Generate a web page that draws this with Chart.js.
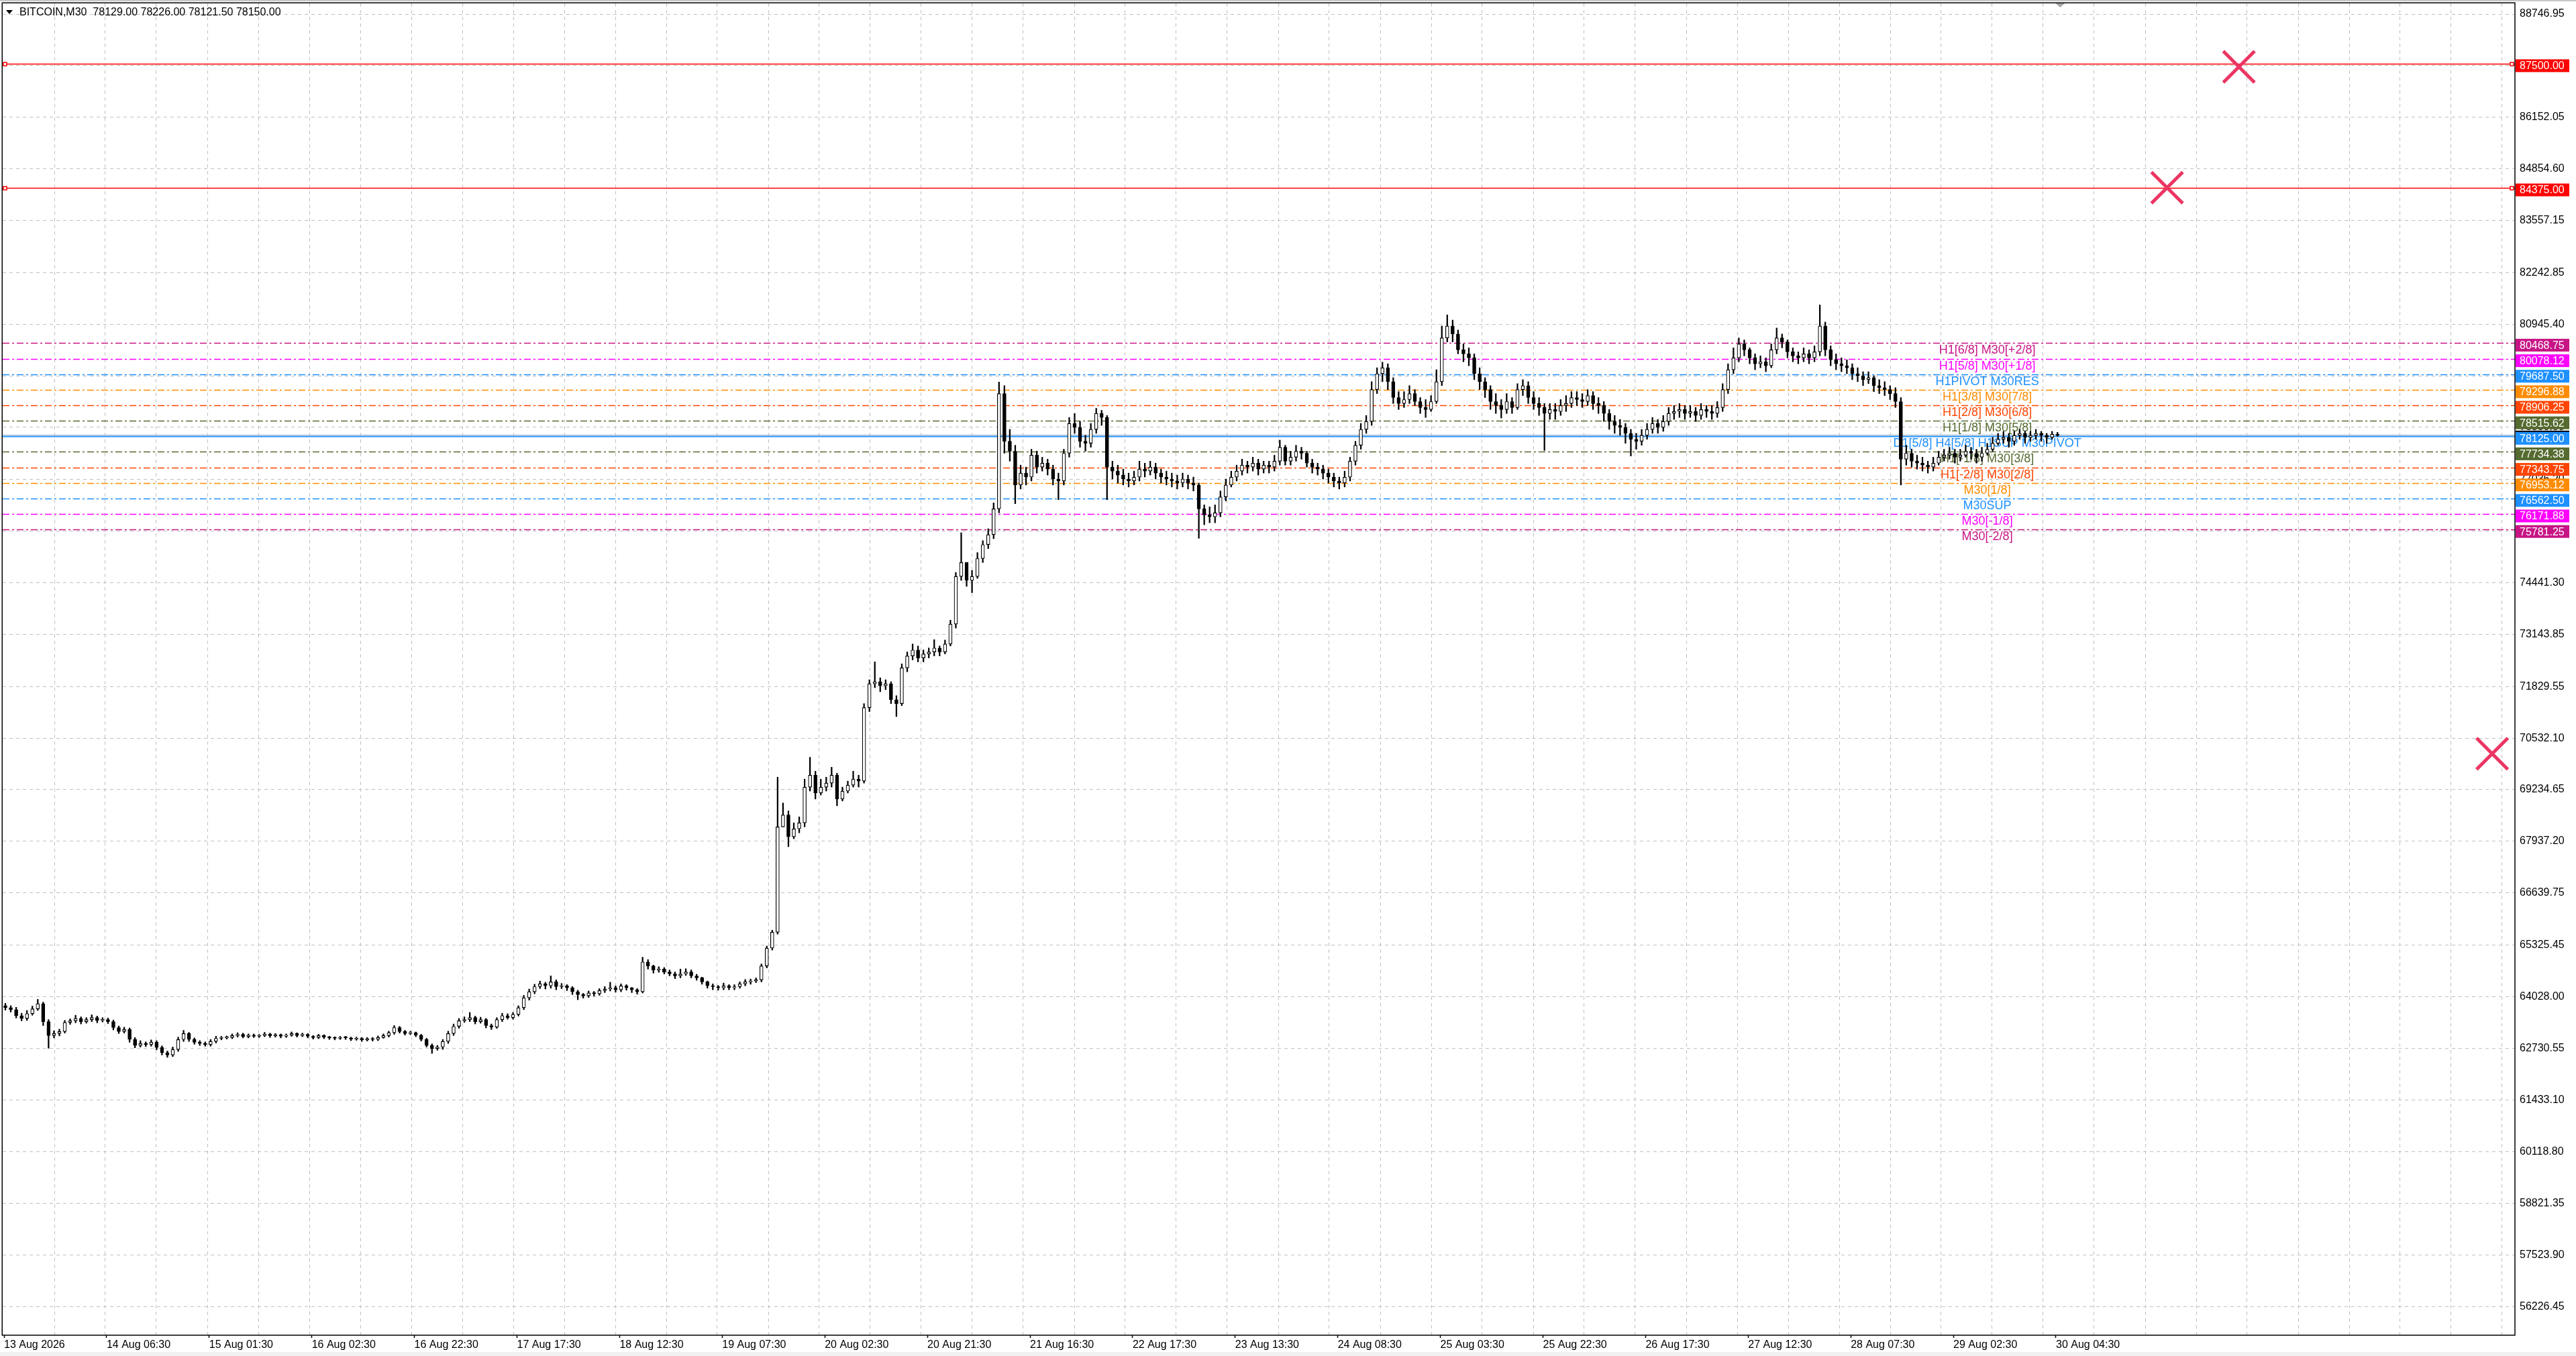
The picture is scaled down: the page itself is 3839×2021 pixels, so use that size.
<!DOCTYPE html>
<html>
<head>
<meta charset="utf-8">
<title>BITCOIN,M30</title>
<script src="https://cdn.jsdelivr.net/npm/chart.js@4.4.1/dist/chart.umd.min.js"></script>
<style>
  html, body { margin: 0; padding: 0; background: #fff; overflow: hidden; }
  #wrap { width: 3839px; height: 2021px; }
</style>
</head>
<body>
<div id="wrap"><canvas id="grafic"></canvas></div>
<script>
// dades llegides del grafic (espelmes d'una hora)
const firstOpen = 63800;
const closes = [
  63750,63700,63550,63480,63600,63720,63850,63400,63050,63100,63150,63380,63420,63480,63400,63450,63500,63430,63450,63400,
  63250,63150,63200,62950,62800,62850,62820,62880,62750,62620,62560,62700,62950,63100,62950,62880,62850,62820,62900,62980,
  62990,63000,63050,63080,63020,63060,63030,63050,63090,63040,63070,63030,63060,63100,63050,63080,63030,63000,63050,63010,
  62990,62980,63000,62990,62960,62980,62940,62970,62950,63000,63050,63120,63250,63150,63100,63120,63060,62950,62800,62720,
  62760,62900,63100,63280,63420,63450,63500,63400,63450,63300,63260,63450,63550,63500,63580,63750,64000,64150,64280,64350,
  64300,64400,64280,64300,64250,64150,64080,64050,64120,64100,64180,64220,64250,64200,64300,64250,64200,64150,64900,64800,
  64700,64720,64650,64600,64550,64600,64650,64550,64500,64400,64300,64280,64250,64300,64250,64280,64350,64400,64420,64450,
  64800,65250,65650,68300,68600,68050,68250,68400,69300,69600,69150,69300,69400,69600,69000,69200,69350,69500,69450,71300,
  71900,71950,71850,71900,71500,71400,72300,72600,72750,72550,72650,72700,72800,72700,72900,73400,74600,74950,74500,74600,
  75050,75400,75650,76300,79200,78000,77750,76900,77200,77100,77650,77350,77450,77300,77050,77000,77700,78450,78350,78000,
  77950,78300,78700,78600,77350,77250,77150,77050,77000,77100,77300,77250,77350,77200,77100,77050,77000,76950,77050,76950,
  76900,76300,76150,76100,76200,76600,76900,77100,77250,77400,77350,77450,77300,77400,77350,77500,77850,77500,77600,77750,
  77700,77450,77350,77300,77200,77100,77000,76950,77100,77500,77900,78300,78500,79300,79700,79850,79500,79100,78950,79050,
  79200,79000,78850,78800,79000,79500,80600,80900,80700,80300,80200,80100,79700,79500,79300,79000,78900,78800,79000,78850,
  79300,79400,79100,78950,78850,78700,78800,78750,78900,78950,79100,79050,79000,79150,78950,78900,78700,78500,78400,78350,
  78200,78050,78000,78150,78300,78450,78350,78500,78700,78750,78800,78700,78750,78650,78800,78750,78700,78850,79300,79800,
  80100,80450,80300,80100,79950,80000,79900,80300,80600,80500,80250,80150,80100,80200,80100,80250,80900,80300,80050,79950,
  79900,79850,79700,79650,79550,79600,79400,79350,79300,79200,79000,77550,77700,77500,77450,77400,77350,77450,77600,77650,
  77700,77600,77650,77750,77700,77600,77700,77800,77950,78050,78100,78000,78150,78200,78100,78150,78200,78150,78100,78180,78150
];
const highs = [
  63860,63800,63760,63610,63680,63790,63960,63890,63450,63170,63210,63430,63470,63560,63520,63500,63570,63540,63500,63490,
  63440,63290,63260,63240,63000,62920,62890,62940,62920,62790,62660,62760,63010,63180,63130,62990,62920,62890,62950,63030,
  63030,63040,63090,63120,63110,63090,63090,63080,63130,63110,63100,63090,63090,63140,63120,63110,63100,63050,63080,63070,
  63030,63020,63030,63030,63010,63010,63000,63000,63000,63040,63090,63160,63300,63280,63180,63160,63140,63080,62980,62840,
  62800,62950,63160,63340,63480,63520,63630,63540,63510,63480,63340,63500,63610,63600,63630,63800,64060,64220,64340,64420,
  64390,64550,64450,64360,64330,64280,64190,64110,64170,64160,64230,64280,64390,64300,64350,64330,64260,64230,65020,64960,
  64820,64780,64760,64700,64650,64720,64730,64700,64590,64520,64420,64350,64310,64370,64330,64330,64400,64460,64470,64500,
  64850,65300,65700,69550,68900,68700,68400,68550,69500,70050,69700,69500,69550,69800,69650,69300,69450,69700,69600,71400,
  72000,72450,72050,72000,71950,71600,72400,72700,72900,72850,72750,72800,73010,72850,73000,73500,74700,75700,74950,74750,
  75200,75500,75800,76450,79490,79400,78300,77900,77400,77350,77800,77750,77600,77550,77400,77200,77800,78600,78700,78500,
  78150,78450,78830,78780,78650,77500,77400,77300,77200,77250,77500,77450,77500,77450,77300,77250,77200,77150,77200,77150,
  77100,76950,76400,76350,76400,76750,77050,77250,77400,77550,77500,77600,77550,77500,77500,77650,78030,77900,77750,77900,
  77850,77750,77550,77450,77400,77300,77200,77100,77250,77600,78000,78450,78650,79500,79850,79990,79950,79600,79250,79250,
  79400,79300,79100,79050,79150,79800,80900,81180,81050,80800,80450,80350,80200,79850,79600,79400,79200,79050,79200,79100,
  79450,79550,79500,79250,79100,78950,78950,78950,79050,79150,79250,79250,79200,79300,79250,79100,79000,78800,78650,78550,
  78450,78300,78200,78300,78450,78600,78550,78650,78850,78900,78950,78900,78900,78850,78950,78900,78900,79000,79450,79950,
  80350,80600,80550,80350,80200,80150,80100,80450,80850,80700,80550,80350,80250,80350,80300,80400,81430,81000,80400,80200,
  80100,80050,79950,79850,79750,79750,79650,79550,79500,79400,79350,79100,77900,77800,77650,77600,77500,77600,77750,77800,
  77850,77800,77800,77900,77850,77800,77850,77950,78100,78200,78250,78200,78250,78300,78250,78250,78300,78250,78200,78250,78226
];
const lows = [
  63690,63640,63490,63420,63430,63560,63680,63300,62730,62990,63040,63110,63330,63370,63340,63360,63400,63370,63390,63350,
  63190,63100,63110,62880,62740,62760,62770,62780,62690,62560,62500,62520,62650,62900,62900,62830,62800,62780,62780,62860,
  62940,62960,62970,63010,62990,62990,63000,63000,63020,63000,63010,62990,63000,63030,63010,63020,62990,62960,62970,62970,
  62950,62940,62950,62950,62920,62930,62900,62910,62910,62920,62980,63010,63080,63110,63060,63070,63020,62910,62760,62600,
  62680,62700,62850,63050,63230,63380,63400,63340,63360,63240,63200,63230,63400,63460,63460,63540,63700,63940,64100,64230,
  64220,64240,64200,64230,64180,64080,63950,63990,64010,64040,64060,64130,64170,64140,64150,64190,64130,64090,64120,64720,
  64620,64640,64600,64550,64480,64500,64560,64500,64440,64340,64240,64200,64190,64200,64200,64200,64240,64300,64340,64380,
  64400,64750,65200,65600,68300,67800,68000,68150,68300,69200,69000,69100,69200,69300,68830,68950,69150,69300,69300,69400,
  71200,71800,71700,71750,71400,71075,71350,72200,72500,72450,72450,72550,72600,72600,72650,72850,73300,74500,74350,74190,
  74550,74950,75300,75550,76200,77700,77500,76430,76800,76900,77000,77200,77250,77150,76900,76530,76900,77600,78200,77850,
  77750,77850,78200,78400,76530,77050,76950,76900,76850,76900,77000,77100,77150,77050,76950,76900,76850,76800,76850,76800,
  76750,75560,75900,75950,75950,76100,76500,76850,77000,77150,77200,77250,77150,77200,77200,77250,77400,77400,77400,77500,
  77550,77350,77200,77150,77050,76950,76850,76800,76850,77000,77400,77800,78200,78400,79200,79500,79300,78950,78800,78850,
  78950,78900,78700,78600,78750,78950,79400,80500,80500,80200,80000,79900,79550,79300,79100,78800,78700,78585,78700,78700,
  78800,79150,78950,78800,78650,77770,78550,78550,78650,78750,78850,78900,78850,78900,78800,78700,78500,78300,78200,78150,
  77950,77630,77800,77900,78050,78200,78200,78250,78400,78550,78600,78550,78600,78500,78550,78600,78550,78600,78750,79200,
  79700,80000,80150,79950,79800,79850,79750,79850,80200,80350,80100,80000,79950,80000,79950,80000,80150,80150,79900,79800,
  79750,79700,79550,79500,79400,79450,79250,79200,79150,79050,78850,76900,77400,77350,77300,77250,77200,77250,77400,77500,
  77550,77450,77500,77600,77550,77450,77500,77650,77750,77900,77950,77850,77900,78050,77950,78000,78050,78000,77950,78050,78121.5
];

const priceTicks = [88746.95, 87449.50, 86152.05, 84854.60, 83557.15, 82242.85, 80945.40, 79647.95, 78350.50,
  77036.20, 75738.75, 74441.30, 73143.85, 71829.55, 70532.10, 69234.65, 67937.20, 66639.75, 65325.45, 64028.00,
  62730.55, 61433.10, 60118.80, 58821.35, 57523.90, 56226.45];
const timeLabels = ['13 Aug 2026', '14 Aug 06:30', '15 Aug 01:30', '16 Aug 02:30', '16 Aug 22:30', '17 Aug 17:30',
  '18 Aug 12:30', '19 Aug 07:30', '20 Aug 02:30', '20 Aug 21:30', '21 Aug 16:30', '22 Aug 17:30', '23 Aug 13:30',
  '24 Aug 08:30', '25 Aug 03:30', '25 Aug 22:30', '26 Aug 17:30', '27 Aug 12:30', '28 Aug 07:30', '29 Aug 02:30',
  '30 Aug 04:30'];

const levelPrices = [80468.75, 80078.12, 79687.50, 79296.88, 78906.25, 78515.62, 78125.00,
  77734.38, 77343.75, 76953.12, 76562.50, 76171.88, 75781.25];
const levelNames = ['H1[6/8] M30[+2/8]', 'H1[5/8] M30[+1/8]', 'H1PIVOT M30RES', 'H1[3/8] M30[7/8]',
  'H1[2/8] M30[6/8]', 'H1[1/8] M30[5/8]', 'D1[5/8] H4[5/8] H1SUP M30PIVOT', 'H1[-1/8] M30[3/8]',
  'H1[-2/8] M30[2/8]', 'M30[1/8]', 'M30SUP', 'M30[-1/8]', 'M30[-2/8]'];
const alertPrices = [87500, 84375];
const markerHours = [413.6, 400.3, 460.5];
const markerPrices = [87420, 84380, 70140];
const headerText = 'BITCOIN,M30  78129.00 78226.00 78121.50 78150.00';
const bidPrice = 78150;

// estils
const levelColors = ['#C71585', '#FF00FF', '#1E90FF', '#FF8C00', '#FF4500', '#556B2F', '#1E90FF',
  '#556B2F', '#FF4500', '#FF8C00', '#1E90FF', '#FF00FF', '#C71585'];
const FONT = '"Liberation Sans", Arial, sans-serif';
const PX_HORA = 8.048;
const X_MIN = -4 / PX_HORA;
const X_MAX = X_MIN + 3744 / PX_HORA;
const HORA_TEXT = 367;

const opens = closes.map((c, i) => i === 0 ? firstOpen : closes[i - 1]);
const cossos = closes.map((c, i) => ({ x: i, y: [opens[i], c] }));
const metxes = closes.map((c, i) => ({ x: i, y: [lows[i], highs[i]] }));
const creus = markerHours.map((h, i) => ({ x: h, y: markerPrices[i] }));

function boxPreu(ctx, a, yScale, p, bg) {
    const cy = yScale.getPixelForValue(p) + 3;
    ctx.fillStyle = bg;
    ctx.fillRect(a.right + 1, cy - 9.5, 80, 19);
    ctx.fillStyle = '#fff';
    ctx.fillText(p.toFixed(2), a.right + 7, cy + 1);
}

const nivells = {
    id: 'nivells',
    beforeDraw(chart) {
        const { ctx, width, height } = chart;
        ctx.save();
        ctx.fillStyle = '#fff';
        ctx.fillRect(0, 0, width, height);
        ctx.fillStyle = '#c8c8c8';
        ctx.fillRect(0, 0, width, 2);
        ctx.fillStyle = '#f0f0f0';
        ctx.fillRect(0, height - 6, width, 6);
        ctx.restore();
    },
    beforeDatasetsDraw(chart) {
        const { ctx, chartArea: a, scales: { x, y } } = chart;
        ctx.save();
        ctx.beginPath();
        ctx.rect(a.left, a.top, a.right - a.left, a.bottom - a.top);
        ctx.clip();

        alertPrices.forEach(p => {
            const py = Math.round(y.getPixelForValue(p)) + 0.5;
            ctx.strokeStyle = '#FF0000';
            ctx.lineWidth = 1.5;
            ctx.setLineDash([]);
            ctx.beginPath();
            ctx.moveTo(a.left, py);
            ctx.lineTo(a.right, py);
            ctx.stroke();
            ctx.fillStyle = '#fff';
            ctx.fillRect(a.left + 1, py - 2.5, 5, 5);
            ctx.strokeRect(a.left + 1, py - 2.5, 5, 5);
            ctx.fillRect(a.right - 7, py - 2.5, 5, 5);
            ctx.strokeRect(a.right - 7, py - 2.5, 5, 5);
        });

        levelPrices.forEach((p, i) => {
            const py = Math.round(y.getPixelForValue(p)) + 0.5;
            ctx.strokeStyle = levelColors[i];
            ctx.lineWidth = i === 6 ? 2 : 1.6;
            ctx.setLineDash(i === 6 ? [] : [10, 4, 3, 4]);
            ctx.beginPath();
            ctx.moveTo(a.left, py);
            ctx.lineTo(a.right, py);
            ctx.stroke();
        });

        // linia del preu actual
        const pb = Math.round(y.getPixelForValue(bidPrice)) - 0.5;
        ctx.setLineDash([]);
        ctx.strokeStyle = '#b8c4d0';
        ctx.lineWidth = 1.5;
        ctx.beginPath();
        ctx.moveTo(a.left, pb);
        ctx.lineTo(a.right, pb);
        ctx.stroke();

        ctx.font = '18px ' + FONT;
        ctx.textAlign = 'center';
        ctx.textBaseline = 'middle';
        const tx = x.getPixelForValue(HORA_TEXT);
        levelNames.forEach((n, i) => {
            ctx.fillStyle = levelColors[i];
            ctx.fillText(n, tx, y.getPixelForValue(levelPrices[i]) + 11);
        });
        ctx.restore();
    },
    afterDraw(chart) {
        const { ctx, chartArea: a, scales: { x, y } } = chart;
        ctx.save();
        // marc
        ctx.strokeStyle = '#000';
        ctx.lineWidth = 1.5;
        ctx.setLineDash([]);
        ctx.strokeRect(a.left - 0.75, a.top - 0.75, a.right - a.left + 0.75, a.bottom - a.top + 0.75);

        // marcador de desplaçament
        const sx = x.getPixelForValue(closes.length - 0.5);
        ctx.fillStyle = '#a8a8a8';
        ctx.beginPath();
        ctx.moveTo(sx - 7, a.top);
        ctx.lineTo(sx + 7, a.top);
        ctx.lineTo(sx, a.top + 6);
        ctx.closePath();
        ctx.fill();

        // etiquetes de preu a l'eix
        ctx.font = '16px ' + FONT;
        ctx.textAlign = 'left';
        ctx.textBaseline = 'middle';
        alertPrices.forEach(p => boxPreu(ctx, a, y, p, '#FF0000'));
        levelPrices.forEach((p, i) => {
            if (i === 6) {
                const cb = y.getPixelForValue(bidPrice) + 3;
                ctx.fillStyle = '#000';
                ctx.fillRect(a.right + 1, cb - 10, 80, 19);
            }
            boxPreu(ctx, a, y, p, levelColors[i]);
        });

        // capçalera
        ctx.fillStyle = '#000';
        ctx.beginPath();
        ctx.moveTo(9, 15);
        ctx.lineTo(19, 15);
        ctx.lineTo(14, 21);
        ctx.closePath();
        ctx.fill();
        ctx.fillText(headerText, 29, 19);
        ctx.restore();
    }
};

const ctx = document.getElementById('grafic').getContext('2d');
new Chart(ctx, {
    type: 'bar',
    data: {
        datasets: [
            {
                type: 'scatter',
                data: creus,
                showLine: false,
                pointStyle: 'crossRot',
                pointRadius: 33,
                borderColor: '#EC3562',
                borderWidth: 5,
                order: 0
            },
            {
                data: cossos,
                grouped: false,
                barThickness: 5,
                minBarLength: 1.5,
                backgroundColor: c => closes[c.dataIndex] > opens[c.dataIndex] ? '#ffffff' : '#000000',
                borderColor: '#000',
                borderWidth: 1.2,
                borderSkipped: false,
                order: 1
            },
            {
                data: metxes,
                grouped: false,
                barThickness: 1.6,
                backgroundColor: '#000',
                borderWidth: 0,
                order: 2
            }
        ]
    },
    options: {
        responsive: true,
        maintainAspectRatio: false,
        animation: false,
        events: [],
        layout: { autoPadding: false, padding: { left: 4, top: 5, right: 0, bottom: 0 } },
        plugins: {
            legend: { display: false },
            tooltip: { enabled: false }
        },
        scales: {
            x: {
                type: 'linear',
                offset: false,
                min: X_MIN,
                max: X_MAX,
                bounds: 'data',
                border: { display: false, dash: [5, 5] },
                grid: {
                    offset: false,
                    drawTicks: true,
                    tickLength: 4,
                    lineWidth: 1,
                    color: c => (c.tick && c.tick.lbl) ? 'rgba(0,0,0,0)' : '#c0c0c0',
                    tickColor: c => (c.tick && c.tick.lbl) ? '#000' : 'rgba(0,0,0,0)',
                    tickWidth: 1.5
                },
                ticks: {
                    autoSkip: false,
                    maxRotation: 0,
                    minRotation: 0,
                    align: 'start',
                    padding: 1,
                    color: '#000',
                    font: { family: FONT, size: 16 },
                    callback: (v, i, t) => t[i].lbl || ''
                },
                afterBuildTicks: s => {
                    const t = [];
                    for (let j = 1; j < 50; j++) {
                        const v = (76 * j - 3) / PX_HORA;
                        if (v < X_MAX) t.push({ value: v });
                    }
                    timeLabels.forEach((l, k) => t.push({ value: (152.9 * k - 2) / PX_HORA, lbl: l }));
                    t.sort((p, q) => p.value - q.value);
                    s.ticks = t;
                },
                afterFit: s => {
                    s.height = 31;
                    s.paddingLeft = 0;
                    s.paddingRight = 0;
                }
            },
            y: {
                type: 'linear',
                position: 'right',
                min: 55510,
                max: 89018,
                bounds: 'data',
                beginAtZero: false,
                border: { display: false, dash: [5, 5] },
                grid: { drawTicks: false, color: '#c0c0c0', lineWidth: 1 },
                ticks: {
                    padding: 7,
                    crossAlign: 'near',
                    color: '#000',
                    font: { family: FONT, size: 16 },
                    callback: v => Number(v).toFixed(2)
                },
                afterBuildTicks: s => {
                    s.ticks = priceTicks.map(v => ({ value: v }));
                },
                afterFit: s => {
                    s.width = 91;
                    s.paddingTop = 0;
                    s.paddingBottom = 0;
                }
            }
        }
    },
    plugins: [nivells]
});
</script>
</body>
</html>
